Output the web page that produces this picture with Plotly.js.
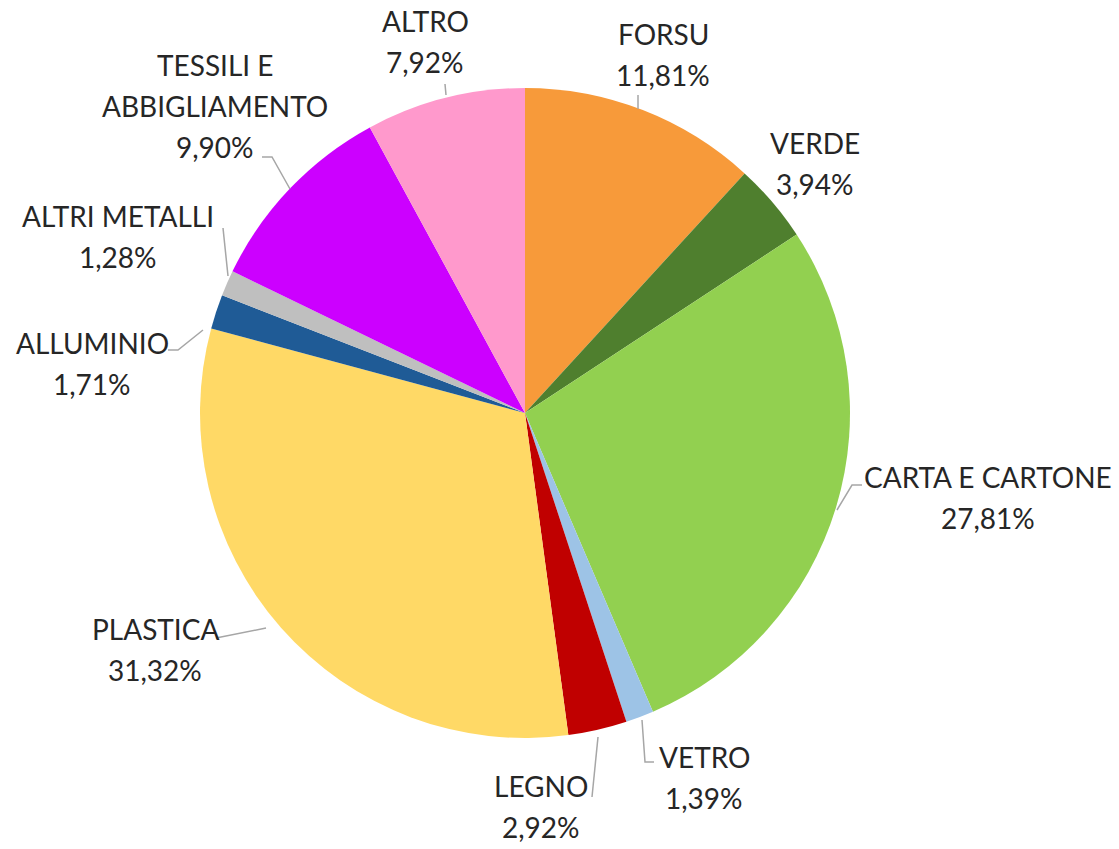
<!DOCTYPE html>
<html>
<head>
<meta charset="utf-8">
<script src="https://cdn.plot.ly/plotly-3.0.1.min.js"></script>
<style>html,body{margin:0;padding:0;background:#fff;}#chart{width:1119px;height:849px;}</style>
</head>
<body>
<div id="chart"></div>
<script>
// ---- Data ----
const categories = ["FORSU", "VERDE", "CARTA E CARTONE", "VETRO", "LEGNO", "PLASTICA", "ALLUMINIO", "ALTRI METALLI", "TESSILI E<br>ABBIGLIAMENTO", "ALTRO"];
const values = [11.81, 3.94, 27.81, 1.39, 2.92, 31.32, 1.71, 1.28, 9.90, 7.92];
const colors = ["#F79A3A", "#4F7F2E", "#92D050", "#9DC3E6", "#C00000", "#FFD966", "#1F5B96", "#BFBFBF", "#CC00FF", "#FF99CC"];

// ---- Layout helpers (pixel -> paper) ----
const W = 1119, H = 849;
const px = x => x / W;
const py = y => 1 - y / H;
const cx = 525, cy = 413, R = 325;

// label anchor (centre of first line, px) and leader paths (px)
const labelPos = [
  [663, 34], [815, 143], [988, 477], [704, 757], [541, 786],
  [155, 629], [92, 343], [118, 216], [215, 65], [425, 21]
];
const leaders = [
  [[638, 95], [638, 109]],
  null,
  [[862, 485], [852, 485], [837, 510]],
  [[642, 720], [645, 762], [654, 762]],
  [[598, 737], [592, 797]],
  [[216, 638], [266, 628]],
  [[168, 350], [178, 350], [203, 330]],
  [[223, 228], [228, 276]],
  [[262, 157], [272, 157], [290, 189]],
  [[445, 84], [446, 95]]
];
const lineStep = 41;
const fmt = v => v.toFixed(2).replace('.', ',') + '%';

const annotations = [];
categories.forEach((c, i) => {
  const lines = c.split('<br>').concat([fmt(values[i])]);
  lines.forEach((t, k) => {
    annotations.push({
      xref: 'paper', yref: 'paper',
      x: px(labelPos[i][0]), y: py(labelPos[i][1] + k * lineStep),
      xanchor: 'center', yanchor: 'middle',
      text: t, showarrow: false,
      font: {family: 'Lato, "Open Sans", sans-serif', size: 28, color: '#262626'}
    });
  });
});

const shapes = leaders.filter(Boolean).map(pts => ({
  type: 'path', xref: 'paper', yref: 'paper',
  path: pts.map((p, j) => (j ? 'L' : 'M') + px(p[0]) + ',' + py(p[1])).join(' '),
  line: {color: '#A6A6A6', width: 1.5}
}));

const trace = {
  type: 'pie',
  labels: categories,
  values: values,
  sort: false,
  direction: 'clockwise',
  rotation: 0,
  marker: {colors: colors, line: {width: 0}},
  textinfo: 'none',
  hoverinfo: 'label+percent',
  domain: {x: [px(cx - R), px(cx + R)], y: [py(cy + R), py(cy - R)]}
};

Plotly.newPlot('chart', [trace], {
  width: W, height: H,
  margin: {l: 0, r: 0, t: 0, b: 0},
  showlegend: false,
  paper_bgcolor: '#fff',
  annotations: annotations,
  shapes: shapes
}, {displayModeBar: false, staticPlot: true});
</script>
</body>
</html>
